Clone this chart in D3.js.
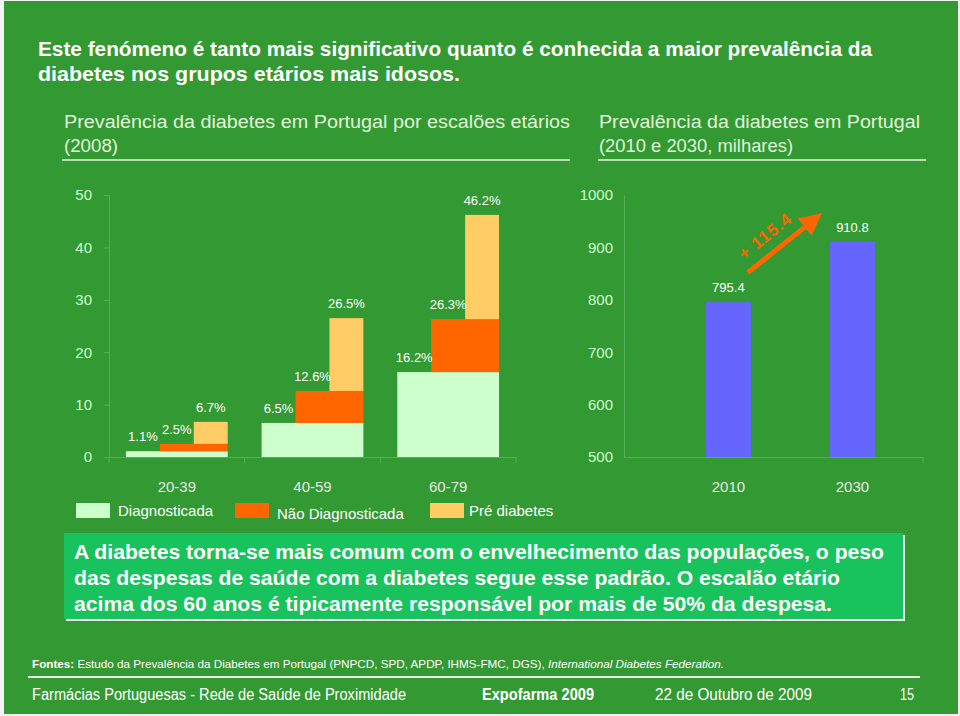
<!DOCTYPE html>
<html><head><meta charset="utf-8">
<script src="https://cdn.jsdelivr.net/npm/d3@7"></script>
<style>body{margin:0;background:#fff}svg{display:block}text{font-family:"Liberation Sans",Arial,sans-serif}</style>
</head><body>
<script>
// ---- data ----
const ageGroups = ["20-39", "40-59", "60-79"];
const diagnosticada = [1.1, 6.5, 16.2];
const naoDiagnosticadaTotal = [2.5, 12.6, 26.3];
const preDiabetesTotal = [6.7, 26.5, 46.2];
const leftTicks = [0, 10, 20, 30, 40, 50];
const seriesNames = ["Diagnosticada", "Não Diagnosticada", "Pré diabetes"];
const years = ["2010", "2030"];
const totalsThousands = [795.4, 910.8];
const rightTicks = [500, 600, 700, 800, 900, 1000];
const increaseLabel = "+ 115.4";
const arrowValues = [852, 965];

const W = 960, H = 716;
const C = {bg:"#339933", diag:"#ccffcc", nao:"#ff6600", pre:"#ffcc66", blue:"#6666ff", tick:"#ccffcc", axis:"#55b055", cat:"#e8e8e8", box:"#18c25c"};
const svg = d3.select("body").append("svg").attr("width", W).attr("height", H);
svg.append("rect").attr("width", W).attr("height", H).attr("fill", "#f4f4f4");
svg.append("rect").attr("x", 4).attr("y", 1).attr("width", W - 6).attr("height", H - 3).attr("fill", C.bg);

function fitText(sel, x, y, str, len, size, weight, fill, style) {
  const t = sel.append("text").attr("x", x).attr("y", y).attr("font-size", size)
    .attr("font-weight", weight || "normal").attr("fill", fill || "#fff").text(str);
  if (style) t.attr("font-style", style);
  if (len) t.attr("textLength", len).attr("lengthAdjust", "spacingAndGlyphs");
  return t;
}

// ---- title ----
fitText(svg, 38, 56, "Este fenómeno é tanto mais significativo quanto é conhecida a maior prevalência da", 834, 21, "bold");
fitText(svg, 38, 81, "diabetes nos grupos etários mais idosos.", 422, 21, "bold");
// subtitles
const subC = "#e0f5d8";
fitText(svg, 64, 128, "Prevalência da diabetes em Portugal por escalões etários", 506, 18, "normal", subC);
fitText(svg, 64, 152, "(2008)", 54, 18, "normal", subC);
fitText(svg, 599, 128, "Prevalência da diabetes em Portugal", 321, 18, "normal", subC);
fitText(svg, 599, 152, "(2010 e 2030, milhares)", 194, 18, "normal", subC);
svg.append("line").attr("x1", 62).attr("x2", 570).attr("y1", 160).attr("y2", 160).attr("stroke", "#e8f5e0").attr("stroke-width", 1.5);
svg.append("line").attr("x1", 598).attr("x2", 926).attr("y1", 160).attr("y2", 160).attr("stroke", "#e8f5e0").attr("stroke-width", 1.5);

// ---- left chart ----
const yL = d3.scaleLinear().domain([0, 50]).range([457, 195]);
const xL = d3.scaleBand().domain(ageGroups).range([109, 516]).padding(0);
const sub = d3.scaleBand().domain([0, 1, 2]).range([0, xL.bandwidth()]).paddingInner(0).paddingOuter(0.5);

const gL = svg.append("g");
const yAxisL = gL.append("g").attr("transform", "translate(109,0)")
  .call(d3.axisLeft(yL).tickValues(leftTicks).tickFormat(d3.format("d")).tickSize(5).tickPadding(12));
yAxisL.select(".domain").attr("stroke", C.axis);
yAxisL.selectAll(".tick line").attr("stroke", C.axis);
yAxisL.selectAll("text").attr("fill", C.tick).attr("font-size", 15).attr("font-family", "Liberation Sans, Arial, sans-serif");

const xAxisL = gL.append("g").attr("transform", "translate(0,457)")
  .call(d3.axisBottom(xL).tickSize(0).tickPadding(24));
xAxisL.select(".domain").attr("stroke", C.axis);
xAxisL.selectAll("text").attr("fill", C.cat).attr("font-size", 15).attr("font-family", "Liberation Sans, Arial, sans-serif");
const bounds = ageGroups.map(d => xL(d)).concat([xL.range()[1]]);
gL.selectAll(".bt").data(bounds).join("line").attr("x1", d => d).attr("x2", d => d)
  .attr("y1", 457).attr("y2", 463).attr("stroke", C.axis);

ageGroups.forEach((g, i) => {
  const x0 = xL(g);
  const c = k => x0 + sub(k);
  const bw = sub.bandwidth();
  gL.append("rect").attr("x", c(0)).attr("width", c(2) + bw - c(0))
    .attr("y", yL(diagnosticada[i])).attr("height", yL(0) - yL(diagnosticada[i])).attr("fill", C.diag);
  gL.append("rect").attr("x", c(1)).attr("width", c(2) + bw - c(1))
    .attr("y", yL(naoDiagnosticadaTotal[i])).attr("height", yL(diagnosticada[i]) - yL(naoDiagnosticadaTotal[i])).attr("fill", C.nao);
  gL.append("rect").attr("x", c(2)).attr("width", bw)
    .attr("y", yL(preDiabetesTotal[i])).attr("height", yL(naoDiagnosticadaTotal[i]) - yL(preDiabetesTotal[i])).attr("fill", C.pre);
  const vals = [diagnosticada[i], naoDiagnosticadaTotal[i], preDiabetesTotal[i]];
  vals.forEach((v, k) => {
    gL.append("text").attr("x", c(k) + bw / 2).attr("y", yL(v) - 10)
      .attr("text-anchor", "middle").attr("font-size", 13).attr("fill", "#ffffff")
      .text(d3.format(".1f")(v) + "%");
  });
});

// ---- right chart ----
const yR = d3.scaleLinear().domain([500, 1000]).range([457, 195]);
const xR = d3.scaleBand().domain(years).range([624, 923]).paddingInner(0.637).paddingOuter(0.524).align(0.63);
const gR = svg.append("g");
const yAxisR = gR.append("g").attr("transform", "translate(624,0)")
  .call(d3.axisLeft(yR).tickValues(rightTicks).tickFormat(d3.format("d")).tickSize(0).tickPadding(11));
yAxisR.select(".domain").attr("stroke", C.axis);
yAxisR.selectAll("text").attr("fill", C.tick).attr("font-size", 15).attr("font-family", "Liberation Sans, Arial, sans-serif");
const xAxisR = gR.append("g").attr("transform", "translate(0,457)")
  .call(d3.axisBottom(xR).tickSize(0).tickPadding(24));
xAxisR.select(".domain").attr("stroke", C.axis);
xAxisR.selectAll("text").attr("fill", C.cat).attr("font-size", 15).attr("font-family", "Liberation Sans, Arial, sans-serif");
gR.append("line").attr("x1", xR.range()[1]).attr("x2", xR.range()[1]).attr("y1", 457).attr("y2", 463).attr("stroke", C.axis);

gR.selectAll(".bar").data(years).join("rect")
  .attr("x", d => xR(d)).attr("width", xR.bandwidth())
  .attr("y", (d, i) => yR(totalsThousands[i])).attr("height", (d, i) => yR(500) - yR(totalsThousands[i]))
  .attr("fill", C.blue);
gR.selectAll(".val").data(years).join("text")
  .attr("x", d => xR(d) + xR.bandwidth() / 2).attr("y", (d, i) => yR(totalsThousands[i]) - 10)
  .attr("text-anchor", "middle").attr("font-size", 13).attr("fill", "#fff")
  .text((d, i) => d3.format(".1f")(totalsThousands[i]));

// arrow
const ax1 = xR("2010") + xR.bandwidth() - 3, ay1 = yR(arrowValues[0]);
const ax2 = xR("2030") - 8, ay2 = yR(arrowValues[1]);
const ang = Math.atan2(ay2 - ay1, ax2 - ax1);
const headLen = 22, headW = 11;
const bx = ax2 - headLen * Math.cos(ang), by = ay2 - headLen * Math.sin(ang);
gR.append("line").attr("x1", ax1).attr("y1", ay1).attr("x2", bx).attr("y2", by)
  .attr("stroke", "#ff6600").attr("stroke-width", 5);
const px = -Math.sin(ang), py = Math.cos(ang);
gR.append("path").attr("d", d3.line()([[ax2, ay2], [bx + px * headW, by + py * headW], [bx - px * headW, by - py * headW]]) + "Z")
  .attr("fill", "#ff6600");
const mx = (ax1 + ax2) / 2 - 20, my = (ay1 + ay2) / 2 - 7;
gR.append("text").attr("transform", `translate(${mx},${my}) rotate(${ang * 180 / Math.PI})`)
  .attr("text-anchor", "middle").attr("dy", "0.35em").attr("font-size", 17).attr("font-weight", "bold")
  .attr("fill", "#ff6600").attr("letter-spacing", 1).text(increaseLabel);

// ---- legend ----
const legendX = [76, 235, 430];
const legendDy = [0, 3, 0];
const legendCols = [C.diag, C.nao, C.pre];
seriesNames.forEach((s, i) => {
  svg.append("rect").attr("x", legendX[i]).attr("y", 503).attr("width", 34).attr("height", 15).attr("fill", legendCols[i]);
  svg.append("text").attr("x", legendX[i] + (i === 2 ? 39 : 42)).attr("y", 516 + legendDy[i])
    .attr("font-size", 15).attr("fill", "#fff").text(s);
});

// ---- highlight box ----
svg.append("rect").attr("x", 66).attr("y", 535).attr("width", 839).attr("height", 86).attr("fill", "#f0fff0");
svg.append("rect").attr("x", 64).attr("y", 533).attr("width", 839).attr("height", 86).attr("fill", C.box);
fitText(svg, 74, 559, "A diabetes torna-se mais comum com o envelhecimento das populações, o peso", 810, 20, "bold");
fitText(svg, 74, 585, "das despesas de saúde com a diabetes segue esse padrão. O escalão etário", 766, 20, "bold");
fitText(svg, 74, 611, "acima dos 60 anos é tipicamente responsável por mais de 50% da despesa.", 758, 20, "bold");

// ---- footer ----
const fontes = svg.append("text").attr("x", 32).attr("y", 668).attr("font-size", 11).attr("fill", "#fff")
  .attr("textLength", 692).attr("lengthAdjust", "spacingAndGlyphs");
fontes.append("tspan").attr("font-weight", "bold").text("Fontes: ");
fontes.append("tspan").text("Estudo da Prevalência da Diabetes em Portugal (PNPCD, SPD, APDP, IHMS-FMC, DGS), ");
fontes.append("tspan").attr("font-style", "italic").text("International Diabetes Federation.");
svg.append("line").attr("x1", 28).attr("x2", 920).attr("y1", 677).attr("y2", 677).attr("stroke", "#eef8ea").attr("stroke-width", 2);
fitText(svg, 32, 700, "Farmácias Portuguesas - Rede de Saúde de Proximidade", 374, 16, "normal");
fitText(svg, 482, 700, "Expofarma 2009", 112, 16, "bold");
fitText(svg, 655, 700, "22 de Outubro de 2009", 157, 16, "normal");
fitText(svg, 900, 700, "15", 14, 16, "normal");
</script>
</body></html>
